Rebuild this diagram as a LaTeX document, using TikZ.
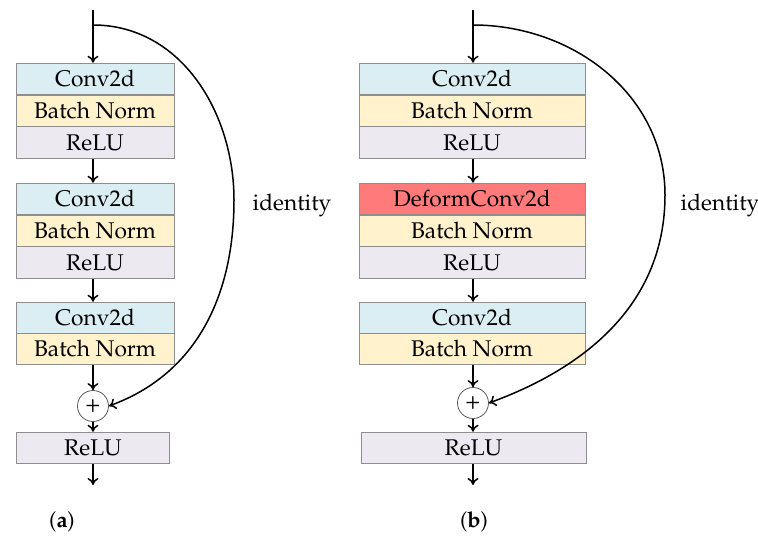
\documentclass[tikz,border=0pt]{standalone}
\usepackage[T1]{fontenc}
\usepackage{mathpazo}
\usetikzlibrary{arrows.meta,calc}
\definecolor{convc}{HTML}{DAEEF3}
\definecolor{bnc}{HTML}{FFF2CC}
\definecolor{reluc}{HTML}{ECE9F1}
\definecolor{defc}{HTML}{FF7B7B}
\definecolor{edgec}{HTML}{8E8E8E}
\tikzset{
  layer/.style={rectangle, draw=edgec, line width=0.9bp, inner sep=0pt, minimum height=31.6bp,
    font=\fontsize{22.8}{27}\selectfont},
  arr/.style={line width=1.5bp, -{To[length=7bp,width=11bp]}},
  plusc/.style={circle, draw=black!65, line width=0.8bp, minimum size=31bp, inner sep=0pt,
    font=\fontsize{25}{28}\selectfont},
  lbl/.style={font=\fontsize{22.8}{27}\selectfont},
  captxt/.style={font=\fontsize{22}{26}\selectfont}
}
\begin{document}
\begin{tikzpicture}[x=1bp,y=1bp]
\useasboundingbox (0,0) rectangle (758,-540);
% ---------------- panel (a) ----------------
\coordinate (atop) at (93,-10);
\node[layer, fill=convc, minimum width=158bp] (ac1) at (95,-79) {Conv2d};
\node[layer, fill=bnc, minimum width=158bp] (ab1) at (95,-111) {Batch Norm};
\node[layer, fill=reluc, minimum width=158bp] (ar1) at (95,-142.6) {ReLU};
\node[layer, fill=convc, minimum width=158bp] (ac2) at (95,-199) {Conv2d};
\node[layer, fill=bnc, minimum width=158bp] (ab2) at (95,-231) {Batch Norm};
\node[layer, fill=reluc, minimum width=158bp] (ar2) at (95,-262.6) {ReLU};
\node[layer, fill=convc, minimum width=158bp] (ac3) at (95,-318) {Conv2d};
\node[layer, fill=bnc, minimum width=158bp] (ab3) at (95,-349) {Batch Norm};
\node[plusc] (aplus) at (93,-406) {+};
\node[layer, fill=reluc, minimum width=153bp] (ar4) at (93,-448) {ReLU};
\coordinate (aout) at (93,-485);
\node[lbl] (aid) at (292,-205) {identity};
\node[captxt] (acap) at (62,-522) {(\textbf{a})};
\draw[arr] (atop) -- (atop |- ac1.north);
\draw[arr] (ar1.south -| atop) -- (ac2.north -| atop);
\draw[arr] (ar2.south -| atop) -- (ac3.north -| atop);
\draw[arr] (ab3.south -| atop) -- (aplus.north);
\draw[arr] (aplus.south) -- (ar4.north);
\draw[arr] (ar4.south) -- (aout);
\draw[arr] (93,-25) to[out=0,in=90] (234,-200) to[out=-90,in=20] (aplus.east);
% ---------------- panel (b) ----------------
\coordinate (btop) at (473,-10);
\node[layer, fill=convc, minimum width=226bp] (bc1) at (472,-79) {Conv2d};
\node[layer, fill=bnc, minimum width=226bp] (bb1) at (472,-111) {Batch Norm};
\node[layer, fill=reluc, minimum width=226bp] (br1) at (472,-142.6) {ReLU};
\node[layer, fill=defc, minimum width=226bp] (bd2) at (472,-199) {DeformConv2d};
\node[layer, fill=bnc, minimum width=226bp] (bb2) at (472,-231) {Batch Norm};
\node[layer, fill=reluc, minimum width=226bp] (br2) at (472,-262.6) {ReLU};
\node[layer, fill=convc, minimum width=226bp] (bc3) at (472,-318) {Conv2d};
\node[layer, fill=bnc, minimum width=226bp] (bb3) at (472,-349) {Batch Norm};
\node[plusc] (bplus) at (473,-403) {+};
\node[layer, fill=reluc, minimum width=225bp] (br4) at (473.5,-448) {ReLU};
\coordinate (bout) at (473,-485);
\node[lbl] (bid) at (720,-205) {identity};
\node[captxt] (bcap) at (474,-522) {(\textbf{b})};
\draw[arr] (btop) -- (btop |- bc1.north);
\draw[arr] (br1.south -| btop) -- (bd2.north -| btop);
\draw[arr] (br2.south -| btop) -- (bc3.north -| btop);
\draw[arr] (bb3.south -| btop) -- (bplus.north);
\draw[arr] (bplus.south) -- (br4.north -| bplus);
\draw[arr] (br4.south -| bplus) -- (bout);
\draw[arr] (473,-25) to[out=0,in=90] (665,-195) to[out=-90,in=20] (bplus.east);
\end{tikzpicture}
\end{document}
